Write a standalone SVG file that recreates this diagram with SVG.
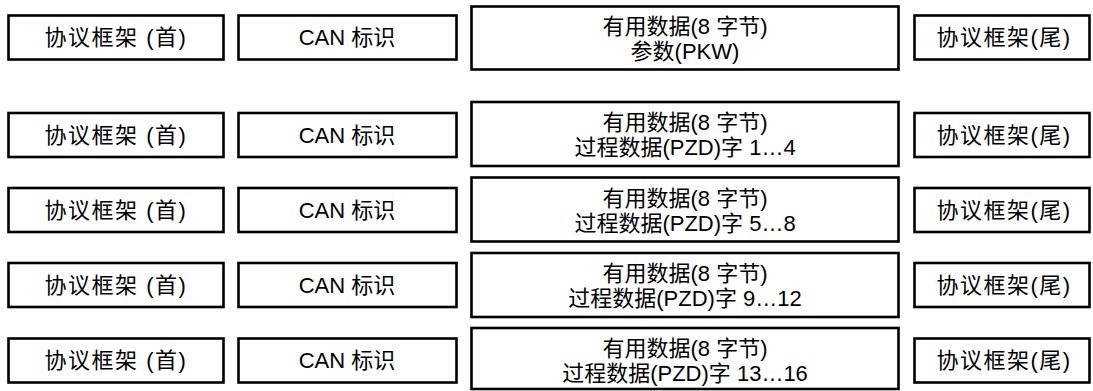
<svg xmlns="http://www.w3.org/2000/svg" width="1093" height="391" viewBox="0 0 1093 391">
<style>
rect{fill:#fff;stroke:#000;stroke-width:2.6}
text{font-family:"Liberation Sans","Noto Sans CJK SC",sans-serif;font-size:22px;fill:#000;text-anchor:middle}
.c{letter-spacing:1.5px}
</style>
<rect x="0" y="0" width="1093" height="391" style="stroke:none"/>
<g id="connectors"/>
<!-- Row 1 -->
<g id="head1"><rect x="8.5" y="15.5" width="215" height="44"/><text class="c" x="116" y="45">协议框架 (首)</text></g>
<g id="can1"><rect x="238.5" y="15.5" width="218" height="44"/><text x="347" y="45">CAN 标识</text></g>
<g id="data1"><rect x="471.5" y="6.5" width="427" height="63"/><text x="685" y="34">有用数据(8 字节)</text><text x="685" y="59">参数(PKW)</text></g>
<g id="tail1"><rect x="914.5" y="15.5" width="175" height="44"/><text class="c" x="1004" y="45">协议框架(尾)</text></g>
<!-- Row 2 -->
<g id="head2"><rect x="8.5" y="113" width="215" height="44"/><text class="c" x="116" y="142.5">协议框架 (首)</text></g>
<g id="can2"><rect x="238.5" y="113" width="218" height="44"/><text x="347" y="142.5">CAN 标识</text></g>
<g id="data2"><rect x="471.5" y="102" width="427" height="64"/><text x="685" y="130">有用数据(8 字节)</text><text x="685" y="155">过程数据(PZD)字 1…4</text></g>
<g id="tail2"><rect x="914.5" y="113" width="175" height="44"/><text class="c" x="1004" y="142.5">协议框架(尾)</text></g>
<!-- Row 3 -->
<g id="head3"><rect x="8.5" y="188" width="215" height="44"/><text class="c" x="116" y="217.5">协议框架 (首)</text></g>
<g id="can3"><rect x="238.5" y="188" width="218" height="44"/><text x="347" y="217.5">CAN 标识</text></g>
<g id="data3"><rect x="471.5" y="177.5" width="427" height="64"/><text x="685" y="205.5">有用数据(8 字节)</text><text x="685" y="230.5">过程数据(PZD)字 5…8</text></g>
<g id="tail3"><rect x="914.5" y="188" width="175" height="44"/><text class="c" x="1004" y="217.5">协议框架(尾)</text></g>
<!-- Row 4 -->
<g id="head4"><rect x="8.5" y="263" width="215" height="44"/><text class="c" x="116" y="292.5">协议框架 (首)</text></g>
<g id="can4"><rect x="238.5" y="263" width="218" height="44"/><text x="347" y="292.5">CAN 标识</text></g>
<g id="data4"><rect x="471.5" y="253" width="427" height="64"/><text x="685" y="281">有用数据(8 字节)</text><text x="685" y="306">过程数据(PZD)字 9…12</text></g>
<g id="tail4"><rect x="914.5" y="263" width="175" height="44"/><text class="c" x="1004" y="292.5">协议框架(尾)</text></g>
<!-- Row 5 -->
<g id="head5"><rect x="8.5" y="338.5" width="215" height="44"/><text class="c" x="116" y="368">协议框架 (首)</text></g>
<g id="can5"><rect x="238.5" y="338.5" width="218" height="44"/><text x="347" y="368">CAN 标识</text></g>
<g id="data5"><rect x="471.5" y="328" width="427" height="61"/><text x="685" y="356">有用数据(8 字节)</text><text x="685" y="381">过程数据(PZD)字 13…16</text></g>
<g id="tail5"><rect x="914.5" y="338.5" width="175" height="44"/><text class="c" x="1004" y="368">协议框架(尾)</text></g>
</svg>
